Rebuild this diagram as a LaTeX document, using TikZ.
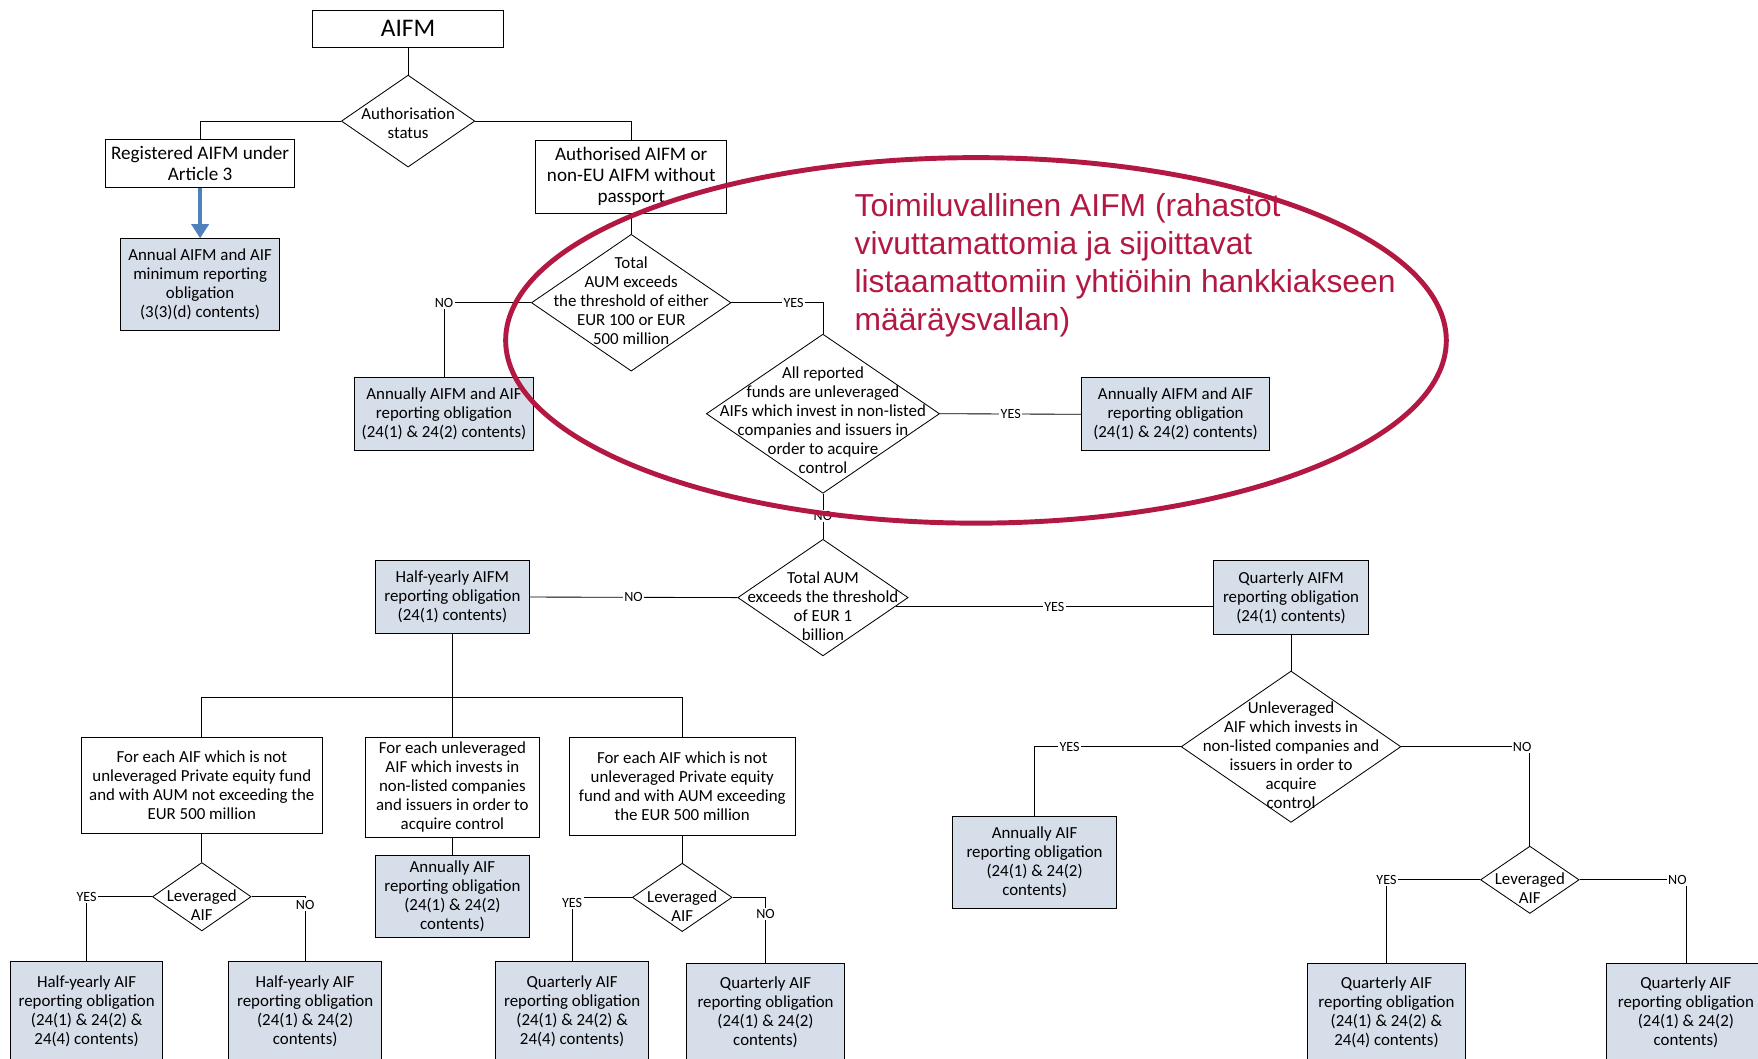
\documentclass[tikz,border=0pt]{standalone}
\usepackage{fontspec}
\setmainfont{Carlito}
\newfontfamily\notefont{Liberation Sans}
\usetikzlibrary{arrows.meta}
\usetikzlibrary{shapes.geometric}
\usetikzlibrary{calc}

\definecolor{repfill}{RGB}{214,222,234}
\definecolor{notered}{RGB}{178,24,66}
\definecolor{arrblue}{RGB}{79,129,189}
\newcommand{\pxu}{0.028cm}
\newcommand{\boxfont}{\fontsize{12}{13.5}\selectfont}
\newcommand{\topfont}{\fontsize{13.6}{15.1}\selectfont}
\newcommand{\lblfont}{\fontsize{10}{10}\selectfont}

\tikzset{
  box/.style 2 args={draw, line width=0.7pt, inner sep=0pt, align=center, font=\boxfont,
    minimum width=#1*\pxu, minimum height=#2*\pxu},
  repbox/.style 2 args={box={#1}{#2}, fill=repfill},
  dia/.style 2 args={draw, diamond, line width=0.6pt, inner sep=0pt,
    minimum width=#1*\pxu, minimum height=#2*\pxu},
  diatext/.style={align=center, inner sep=0pt, font=\boxfont},
  lbl/.style={fill=white, inner sep=1pt, font=\lblfont},
  conn/.style={line width=0.6pt},
  bluearr/.style={draw=arrblue, line width=2.5pt, -{Triangle[width=12pt,length=10pt]}},
  notetext/.style={text=notered, align=left, inner sep=0pt,
    font=\notefont\fontsize{22.6}{27}\selectfont},
}

\begin{document}
\begin{tikzpicture}[x=0.028cm, y=-0.028cm]
\useasboundingbox (0,0) rectangle (1568,944);
\clip (0,0) rectangle (1568,944);
% top of the chart
\node[box={170}{33}, font=\fontsize{18}{20}\selectfont] (aifm) at (364,25.5) {AIFM};
\node[dia={119}{82}] (auth) at (364,108) {};
\node[diatext] (auth-t) at (364,109.5) {Authorisation\\status};
\node[box={169}{43}, font=\topfont] (reg) at (178.5,145.5) {Registered AIFM under\\Article 3};
\node[box={170}{65}, font=\topfont] (autd) at (563,157.5) {Authorised AIFM or\\non-EU AIFM without\\passport};
\node[repbox={142}{82}] (annual) at (178.5,254) {Annual AIFM and AIF\\minimum reporting\\obligation\\(3(3)(d) contents)};
% thresholds
\node[dia={178}{122}] (tot) at (563,270) {};
\node[diatext] (tot-t) at (563,268) {Total\\AUM exceeds\\the threshold of either\\EUR 100 or EUR\\500 million};
\node[repbox={160}{65}] (annm) at (396,369.5) {Annually AIFM and AIF\\reporting obligation\\(24(1) \& 24(2) contents)};
\node[dia={208}{142}] (allr) at (734,369) {};
\node[diatext] (allr-t) at (734,375) {All reported\\funds are unleveraged\\AIFs which invest in non-listed\\companies and issuers in\\order to acquire\\control};
\node[repbox={167}{65}] (annm2) at (1048.5,369.5) {Annually AIFM and AIF\\reporting obligation\\(24(1) \& 24(2) contents)};
\node[dia={152}{104}] (bn) at (734,533) {};
\node[diatext] (bn-t) at (734,540.5) {Total AUM\\exceeds the threshold\\of EUR 1\\billion};
\node[repbox={137}{65}] (hy) at (403.5,532.5) {Half-yearly AIFM\\reporting obligation\\(24(1) contents)};
\node[repbox={138}{66}] (qaifm) at (1151.5,533) {Quarterly AIFM\\reporting obligation\\(24(1) contents)};
% half-yearly branch
\node[box={214.5}{85.5}] (each1) at (180,700.3) {For each AIF which is not\\unleveraged Private equity fund\\and with AUM not exceeding the\\EUR 500 million};
\node[box={155.7}{89.5}] (each2) at (403.5,702.3) {For each unleveraged\\AIF which invests in\\non-listed companies\\and issuers in order to\\acquire control};
\node[box={202}{88}] (each3) at (608.5,701.6) {For each AIF which is not\\unleveraged Private equity\\fund and with AUM exceeding\\the EUR 500 million};
\node[repbox={137}{73}] (ann2) at (403.5,799.3) {Annually AIF\\reporting obligation\\(24(1) \& 24(2)\\contents)};
\node[dia={88}{61}] (lev1) at (180,799.8) {};
\node[diatext] (lev1-t) at (180,807.5) {Leveraged\\AIF};
\node[dia={89}{61}] (lev2) at (608.5,800.4) {};
\node[diatext] (lev2-t) at (608.5,808) {Leveraged\\AIF};
\node[repbox={136}{88}] (hya) at (77.3,902) {Half-yearly AIF\\reporting obligation\\(24(1) \& 24(2) \&\\24(4) contents)};
\node[repbox={136}{88}] (hyb) at (272.2,902) {Half-yearly AIF\\reporting obligation\\(24(1) \& 24(2)\\contents)};
\node[repbox={137}{88}] (qa1) at (510.3,902) {Quarterly AIF\\reporting obligation\\(24(1) \& 24(2) \&\\24(4) contents)};
\node[repbox={141}{88}] (qa2) at (682.8,903) {Quarterly AIF\\reporting obligation\\(24(1) \& 24(2)\\contents)};
% quarterly branch
\node[dia={196}{135}] (unl) at (1151.5,666) {};
\node[diatext] (unl-t) at (1151.5,673.5) {Unleveraged\\AIF which invests in\\non-listed companies and\\issuers in order to\\acquire\\control};
\node[repbox={146.5}{81.5}] (ann3) at (922.75,769.3) {Annually AIF\\reporting obligation\\(24(1) \& 24(2)\\contents)};
\node[dia={88}{60}] (lev3) at (1364.5,784.7) {};
\node[diatext] (lev3-t) at (1364.5,792.5) {Leveraged\\AIF};
\node[repbox={141}{88}] (qa3) at (1236.6,903) {Quarterly AIF\\reporting obligation\\(24(1) \& 24(2) \&\\24(4) contents)};
\node[repbox={141}{88}] (qa4) at (1503.7,903) {Quarterly AIF\\reporting obligation\\(24(1) \& 24(2)\\contents)};
%
% draw the connectors
\draw[conn] (aifm) -- (auth);
\draw[conn] (auth.west) -| (reg.north);
\draw[conn] (auth.east) -| (autd.north);
\draw[bluearr] (reg) -- (annual);
\draw[conn] (autd) -- (tot);
\draw[conn] (tot.west) -| node[lbl, pos=0.5]{NO} (annm.north);
\draw[conn] (tot.east) -| node[lbl, pos=0.34]{YES} (allr.north);
\draw[conn] (allr.east) -- node[lbl]{YES} (annm2.west);
\draw[conn] (allr.south) -- node[lbl]{NO} (bn.north);
\draw[conn] (bn.west) -- node[lbl]{NO} (hy.east);
\draw[conn] ($(bn.east)+(-11.6,8)$) -- node[lbl]{YES} ($(qaifm.west)+(0,8)$);
% split under the half-yearly box
\coordinate (bus) at (403.5,622);
\draw[conn] (hy) -- (each2);
\draw[conn] (each1.north) |- (bus) -| (each3.north);
\draw[conn] (each1) -- (lev1);
\draw[conn] (lev1.west) -| node[lbl, pos=0.5]{YES} (hya.north);
\draw[conn] (lev1.east) -| node[lbl, pos=0.56]{NO} (hyb.north);
\draw[conn] (each2) -- (ann2);
\draw[conn] (each3) -- (lev2);
\draw[conn] (lev2.west) -| node[lbl, pos=0.54]{YES} (qa1.north);
\draw[conn] (lev2.east) -| node[lbl, pos=0.63]{NO} (qa2.north);
\draw[conn] (qaifm) -- (unl);
\draw[conn] (unl.west) -| node[lbl, pos=0.38]{YES} (ann3.north);
\draw[conn] (unl.east) -| node[lbl, pos=0.47]{NO} (lev3.north);
\draw[conn] (lev3.west) -| node[lbl, pos=0.5]{YES} (qa3.north);
\draw[conn] (lev3.east) -| node[lbl, pos=0.46]{NO} (qa4.north);
%
% red note over the chart
\node[notetext, anchor=north west] (note) at (762,172) {Toimiluvallinen AIFM (rahastot\\vivuttamattomia ja sijoittavat\\listaamattomiin yhtiöihin hankkiakseen\\määräysvallan)};
\draw[notered, line width=3.5pt] (870.5,303.6) ellipse [x radius=419.5, y radius=163];
\end{tikzpicture}
\end{document}
